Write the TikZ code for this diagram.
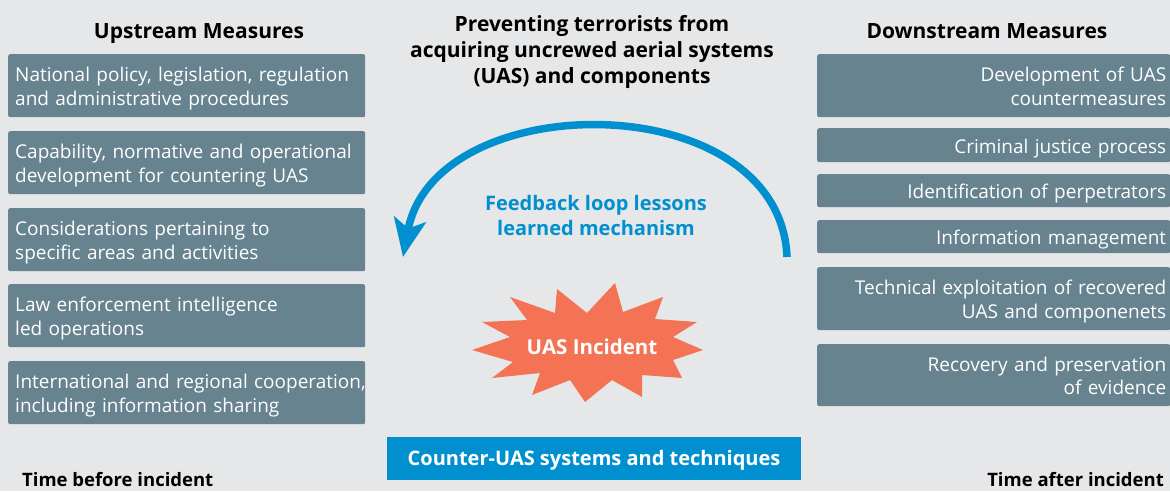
\documentclass[tikz,border=0pt]{standalone}
\usepackage{fontspec}
\setmainfont{Open Sans}
\usetikzlibrary{arrows.meta}
\definecolor{bg}{HTML}{E6E7E8}
\definecolor{slate}{HTML}{67838F}
\definecolor{cblue}{HTML}{0090D0}
\definecolor{burst}{HTML}{F37354}
\begin{document}
\begin{tikzpicture}[x=1pt,y=-1pt,
  boxbase/.style={fill=slate, rounded corners=2pt, anchor=north west, inner sep=0pt},
  lbox/.style={boxbase, minimum width=357pt, minimum height=63pt},
  rbox/.style={boxbase, minimum width=353pt},
  boxtext/.style={text=white, inner sep=0pt, font=\fontsize{19}{23.5}\selectfont,
    execute at begin node=\strut, execute at end node=\strut},
  ltext/.style={boxtext, anchor=west, text width=365pt, align=left},
  rtext/.style={boxtext, anchor=east, text width=365pt, align=right},
  head/.style={font=\bfseries\fontsize{21}{26}\selectfont, text=black},
  foot/.style={font=\bfseries\fontsize{18.5}{22}\selectfont, text=black},
  fb/.style={draw=cblue, line width=7.5pt, -{Stealth[length=38pt,width=32pt,inset=9pt]}}]
\useasboundingbox (0,0) rectangle (1170,491);
\fill[bg] (0,0) rectangle (1170,491);

% headings
\node[head, anchor=base, inner sep=0pt] (uph) at (199,38) {Upstream Measures};
\node[head, anchor=base, inner sep=0pt] (dnh) at (987,38) {Downstream Measures};
\node[head, align=center] (title) at (592,52) {Preventing terrorists from\\acquiring uncrewed aerial systems\\(UAS) and components};

% left boxes
\node[lbox] (l1) at (8,54) {};
\node[lbox] (l2) at (8,131) {};
\node[lbox] (l3) at (8,208) {};
\node[lbox] (l4) at (8,284) {};
\node[lbox] (l5) at (8,361) {};
\node[ltext] (l1t) at ([xshift=7pt,yshift=-3.3pt]l1.west) {National policy, legislation, regulation\\and administrative procedures};
\node[ltext] (l2t) at ([xshift=7pt,yshift=-3.3pt]l2.west) {Capability, normative and operational\\development for countering UAS};
\node[ltext] (l3t) at ([xshift=7pt,yshift=-3.3pt]l3.west) {Considerations pertaining to\\specific areas and activities};
\node[ltext] (l4t) at ([xshift=7pt,yshift=-3.3pt]l4.west) {Law enforcement intelligence\\led operations};
\node[ltext] (l5t) at ([xshift=7pt,yshift=-3.3pt]l5.west) {International and regional cooperation,\\including information sharing};

% right boxes
\node[rbox, minimum height=63pt] (r1) at (817,54) {};
\node[rbox, minimum height=34pt] (r2) at (817,128) {};
\node[rbox, minimum height=33pt] (r3) at (817,174) {};
\node[rbox, minimum height=33pt] (r4) at (817,220) {};
\node[rbox, minimum height=63pt] (r5) at (817,267) {};
\node[rbox, minimum height=62pt] (r6) at (817,344) {};
\node[rtext] (r1t) at ([xshift=-4pt,yshift=-3.3pt]r1.east) {Development of UAS\\countermeasures};
\node[rtext] (r2t) at ([xshift=-4pt,yshift=-3.3pt]r2.east) {Criminal justice process};
\node[rtext] (r3t) at ([xshift=-4pt,yshift=-3.3pt]r3.east) {Identification of perpetrators};
\node[rtext] (r4t) at ([xshift=-4pt,yshift=-3.3pt]r4.east) {Information management};
\node[rtext] (r5t) at ([xshift=-4pt,yshift=-3.3pt]r5.east) {Technical exploitation of recovered\\UAS and componenets};
\node[rtext] (r6t) at ([xshift=-4pt,yshift=-3.3pt]r6.east) {Recovery and preservation\\of evidence};

% feedback arrow
\coordinate (fs) at (787,257);
\coordinate (fe) at (403,257);
\draw[fb] (fs) .. controls (780,85) and (435,85) .. (fe);
\node[font=\bfseries\fontsize{20}{25}\selectfont, text=cblue, align=center] (fbt) at (596,215) {Feedback loop lessons\\learned mechanism};

% starburst
\fill[burst] (472,350) -- (510,337) -- (482,322) -- (527,320) -- (510,297) -- (555,313) -- (557,289) -- (587,313) -- (615,283) -- (623,312) -- (663,297) -- (655,319) -- (697,322) -- (673,337) -- (703,350) -- (673,360) -- (682,378) -- (642,375) -- (642,397) -- (612,380) -- (585,402) -- (570,380) -- (532,395) -- (540,373) -- (492,378) -- (513,362) -- cycle;
\node[font=\bfseries\fontsize{20.5}{24}\selectfont, text=white] (inc) at (592,347) {UAS Incident};

% bottom
\node[fill=cblue, minimum width=414pt, minimum height=43pt, inner sep=0pt] (cuas) at (594,458.5) {};
\node[text=white, inner sep=0pt, font=\bfseries\fontsize{20}{24}\selectfont] (cuast) at ([yshift=-1.5pt]cuas.center) {Counter-UAS systems and techniques};
\node[foot, anchor=base west, inner sep=0pt] (tb) at (22,486) {Time before incident};
\node[foot, anchor=base east, inner sep=0pt] (ta) at (1164,486) {Time after incident};
\end{tikzpicture}
\end{document}
